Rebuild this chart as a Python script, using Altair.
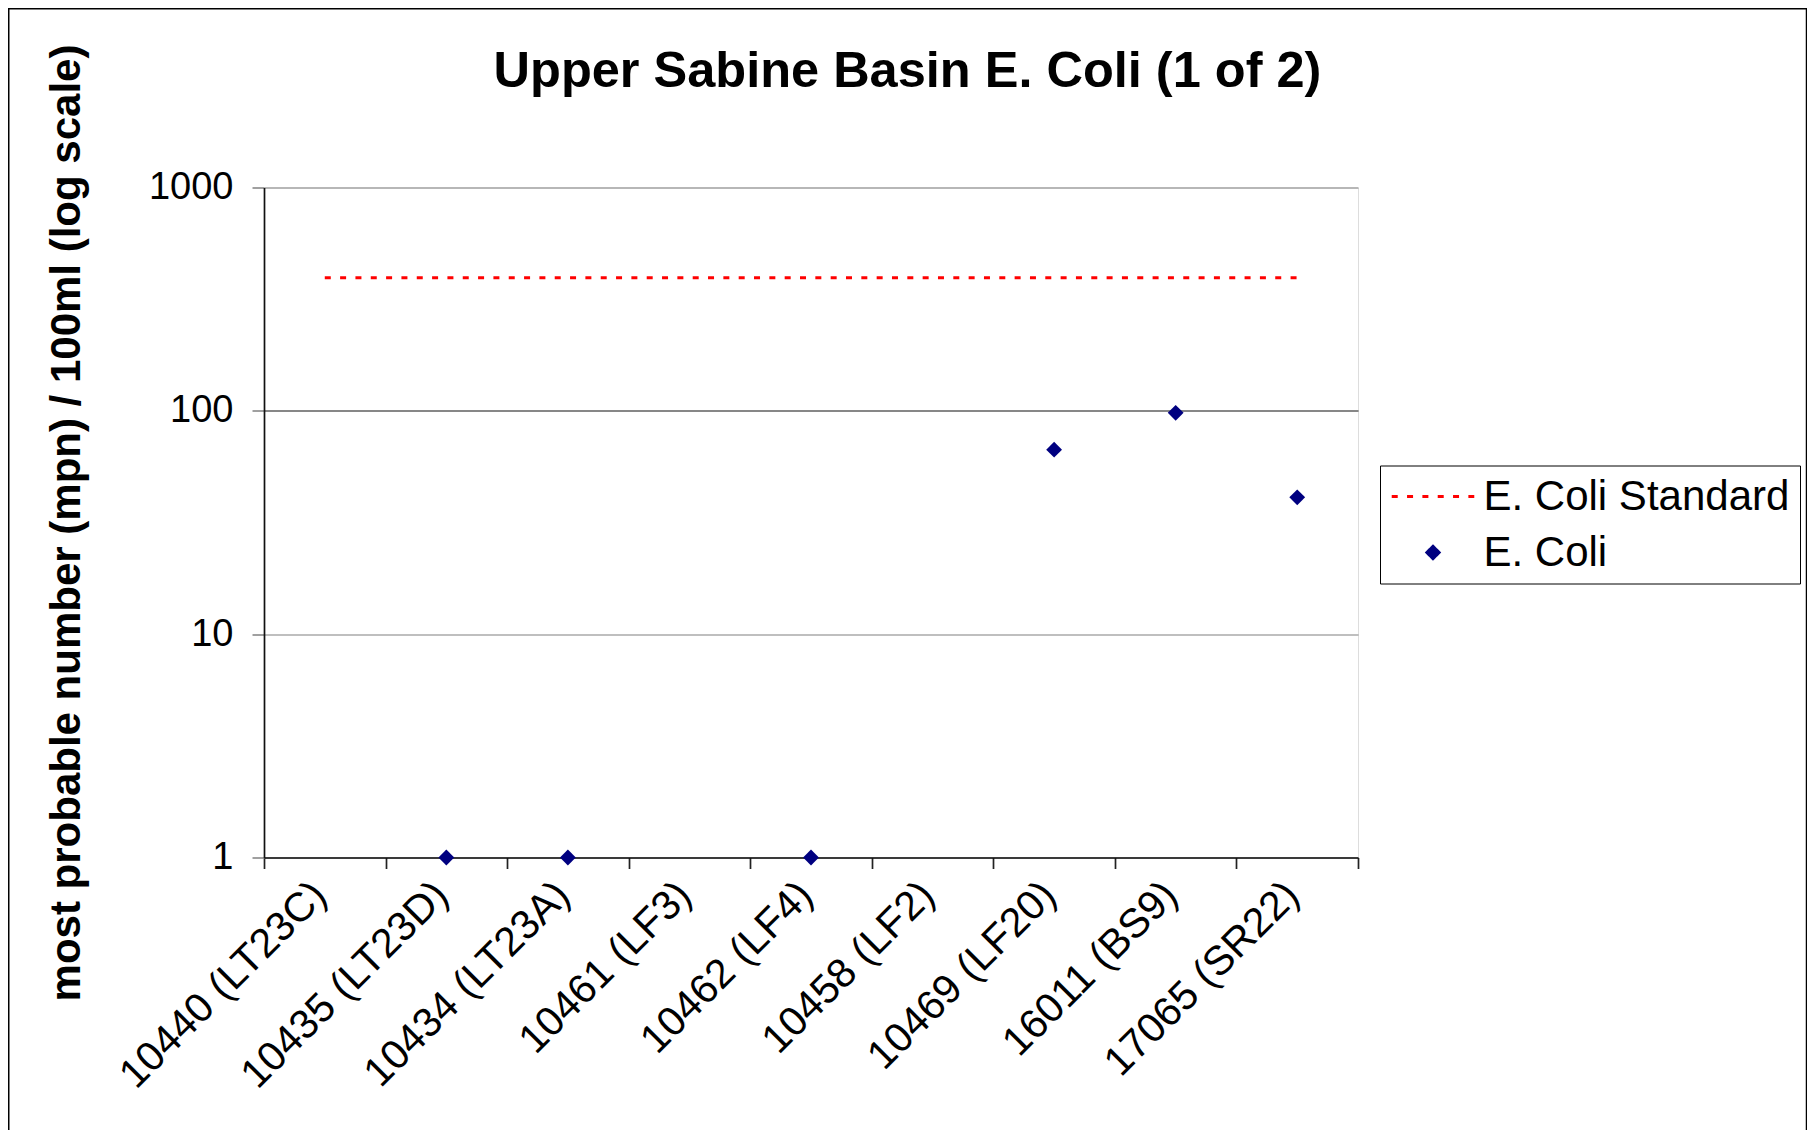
import altair as alt
import pandas as pd

# ---------------- data ----------------
categories = ["10440 (LT23C)", "10435 (LT23D)", "10434 (LT23A)", "10461 (LF3)",
              "10462 (LF4)", "10458 (LF2)", "10469 (LF20)", "16011 (BS9)", "17065 (SR22)"]
ecoli = [None, 1, 1, None, 1, None, 67, 98, 41]
standard = [394, 394, 394, 394, 394, 394, 394, 394, 394]
series_names = ["E. Coli Standard", "E. Coli"]
series_colors = ["#FF0000", "#000080"]
y_ticks = [1, 10, 100, 1000]

std_df = pd.DataFrame({"site": categories, "value": standard, "series": series_names[0]})
pts_df = pd.DataFrame({"site": categories, "value": ecoli, "series": series_names[1]}).dropna()

FONT = "Liberation Sans"

# ---------------- shared encodings ----------------
x_enc = alt.X(
    "site:N",
    sort=categories,
    scale=alt.Scale(type="band", domain=categories, paddingInner=0, paddingOuter=0),
    axis=alt.Axis(
        title=None, labelAngle=-45, labelAlign="right", labelBaseline="middle",
        labelFontSize=41, labelFont=FONT, labelColor="black", labelPadding=20,
        labelOffset=-5, labelLimit=0, labelOverlap=False,
        tickSize=11, tickColor="#222222", tickWidth=1.7, tickBand="extent",
        domainColor="#111111", domainWidth=1.7, grid=False,
    ),
)

y_enc = alt.Y(
    "value:Q",
    scale=alt.Scale(type="log", domain=[1, 1000], nice=False),
    axis=alt.Axis(
        values=y_ticks, format="d",
        title="most probable number (mpn) / 100ml (log scale)",
        titleFont=FONT, titleFontSize=42, titleFontWeight="bold", titleColor="black",
        titleAngle=270, titleAlign="center", titleBaseline="alphabetic",
        titleX=-184.5, titleY=335,
        labelFontSize=38, labelFont=FONT, labelColor="black", labelPadding=19,
        tickSize=12, tickColor="#808080", tickWidth=1.5,
        domainColor="#111111", domainWidth=1.7,
        grid=True, gridWidth=1.2,
        gridColor={"condition": {"test": "datum.value === 100", "value": "#111111"},
                   "value": "#808080"},
    ),
)

legend = alt.Legend(
    title=None, orient="none", legendX=1116, legendY=278,
    padding=10, rowPadding=14, strokeColor="#000000", fillColor="white",
    labelFontSize=42, labelFont=FONT, labelColor="black", labelLimit=0,
    symbolSize=150, symbolStrokeWidth=3, symbolOffset=22, labelOffset=29.5,
    symbolOpacity=1,
)

color_enc = alt.Color("series:N", scale=alt.Scale(domain=series_names, range=series_colors),
                      legend=legend)
shape_enc = alt.Shape("series:N",
                      scale=alt.Scale(domain=series_names, range=["M-6.74,0L6.74,0", "diamond"]),
                      legend=legend)
dash_enc = alt.StrokeDash("series:N",
                          scale=alt.Scale(domain=series_names, range=[[6, 9.33], [1, 0]]),
                          legend=legend)

# ---------------- layers ----------------
frame = alt.Chart(alt.Data(values=[{"f": 1}])).mark_rect(
    filled=False, stroke="black", strokeWidth=1.5
).encode(
    x=alt.value(-255.25), x2=alt.value(1542.5), y=alt.value(-178.75), y2=alt.value(1000)
)

std_line = alt.Chart(std_df).mark_line(strokeWidth=3).encode(
    x=x_enc, y=y_enc, color=color_enc, strokeDash=dash_enc
)

points = alt.Chart(pts_df).mark_point(
    filled=True, size=250, opacity=1, strokeWidth=0
).encode(x=x_enc, y=y_enc, color=color_enc, shape=shape_enc, strokeDash=dash_enc)

chart = alt.layer(frame, std_line, points).properties(
    width=1094,
    height=670,
    title=alt.TitleParams(
        text="Upper Sabine Basin E. Coli (1 of 2)", font=FONT, fontSize=50.5,
        fontWeight="bold", color="black", anchor="middle", frame="group",
        dx=96.5, offset=-129.5, baseline="alphabetic",
    ),
    autosize=alt.AutoSizeParams(type="none"),
    padding={"left": 256, "top": 179.5, "right": 449, "bottom": 272.5},
).configure_view(stroke="#8c8c8c", strokeWidth=2.7).configure(background="white")

chart.save("out.html", embed_options={"renderer": "svg", "actions": False})
